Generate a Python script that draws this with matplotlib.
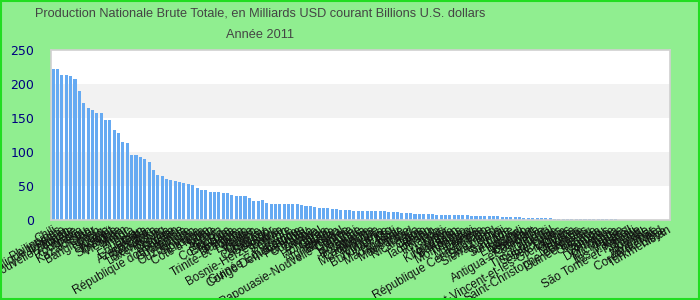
import matplotlib
matplotlib.use("Agg")
import matplotlib.pyplot as plt
from matplotlib.patches import Rectangle
import numpy as np

# Production nationale brute 2011, milliards USD
pays = [
    "Chili", "Philippines", "République tchèque", "Pakistan", "Nouvelle-Zélande",
    "Algérie", "Roumanie", "Pérou", "Kazakhstan", "Qatar",
    "Bangladesh", "Iraq", "Ukraine", "Koweït", "Hongrie",
    "Slovaquie", "Viet Nam", "Maroc", "Angola", "Équateur",
    "Oman", "Cuba", "Azerbaïdjan", "Sri Lanka", "Biélorussie",
    "Luxembourg", "Croatie", "Bulgarie", "Soudan", "République dominicaine",
    "Guatemala", "Tunisie", "Ouzbékistan", "Slovénie", "Lituanie",
    "Côte d'Ivoire", "Liban", "Serbie", "Kenya", "Éthiopie",
    "Costa Rica", "Ghana", "Tanzanie", "Panama", "Trinité-et-Tobago",
    "Lettonie", "Yémen", "Jordanie", "Uruguay", "Cameroun",
    "Salvador", "Bosnie-Herzégovine", "Bolivie", "Bahreïn", "Chypre",
    "Guinée Équatoriale", "Estonie", "Congo Démocratique", "Paraguay", "Ouganda",
    "Zambie", "Népal", "Honduras", "Gabon", "Islande",
    "Afghanistan", "Sénégal", "Papouasie-Nouvelle-Guinée", "Géorgie", "Brunei",
    "Jamaïque", "Botswana", "Albanie", "Cambodge", "Mozambique",
    "Mongolie", "Maurice", "Burkina Faso", "Mali", "Madagascar",
    "Arménie", "Macédoine", "Tchad", "Nicaragua", "Laos",
    "Congo", "Bénin", "Tadjikistan", "Rwanda", "Haïti",
    "Niger", "Moldavie", "Kirghizistan", "Bahamas", "Kosovo",
    "Monténégro", "Malawi", "Guinée", "Mauritanie", "Togo",
    "République Centrafricaine", "Swaziland", "Sierra Leone", "Fidji", "Barbade",
    "Suriname", "Érythrée", "Burundi", "Lesotho", "Bhoutan",
    "Cap-Vert", "Antigua-et-Barbuda", "Belize", "Djibouti", "Timor oriental",
    "Sainte-Lucie", "Seychelles", "Libéria", "Saint-Vincent-et-les-Grenadines", "Guyana",
    "Maldives", "Gambie", "Saint-Christophe-et-Niévès", "Guinée-Bissau", "Grenade",
    "Samoa", "Vanuatu", "Comores", "Dominique", "Tonga",
    "Micronésie", "Palaos", "Îles Marshall", "Kiribati", "São Tomé-et-Principe",
    "Tuvalu", "Somalie", "Myanmar", "Zimbabwe", "Corée du Nord",
    "Libye", "Turkménistan",
]

valeurs = [
    222, 222, 213, 213, 212, 207, 189.5, 172, 164.7, 162,
    157, 157, 147, 147, 133, 127.5, 114, 112.6, 96, 96,
    92, 89, 85, 73, 65.7, 64, 61, 59.5, 58, 56.5,
    55, 53.6, 52, 47.7, 44.7, 44.7, 41.8, 41.8, 41.8, 40.3,
    40.3, 37.4, 36, 36, 36, 33, 28.5, 28.5, 29, 24.8,
    23.4, 23.4, 23.4, 23.4, 23.4, 23.4, 23.4, 22, 20.6, 20.6,
    19, 17.6, 17.6, 17.6, 16, 16, 14.6, 14.6, 14.6, 13,
    13, 13, 13, 13, 13, 13, 13, 11.6, 11.6, 11.6,
    10, 10, 10, 8.7, 8.7, 8.7, 8.7, 8.7, 7.2, 7.2,
    7.2, 7.2, 7.2, 7.2, 7.2, 7.2, 5.8, 5.8, 5.8, 5.8,
    5.8, 5.8, 5.8, 4.3, 4.3, 4.3, 4.3, 4.3, 2.9, 2.9,
    2.9, 2.9, 2.9, 2.9, 2.9, 1.2, 1.2, 1.2, 1.2, 1.2,
    1.2, 1.2, 1.2, 1.2, 1.2, 1.2, 1.2, 1.2, 1.2, 1.2,
]
# pays sans donnée en fin de liste
valeurs = valeurs + [0] * (len(pays) - len(valeurs))

fig = plt.figure(figsize=(7, 3), dpi=100, facecolor="#90ee90")
fig.patches.append(Rectangle((0.001, 0.002), 0.997, 0.995, transform=fig.transFigure,
                             fill=False, edgecolor="#22dd22", linewidth=1.5))
ax = fig.add_axes([51 / 700, 1 - 220 / 300, 619 / 700, 170 / 300])
ax.set_facecolor("white")

x = np.arange(len(pays))
for lo, hi in [(50, 100), (150, 200)]:
    ax.axhspan(lo, hi, color="#f2f2f2", zorder=0, lw=0)
ax.bar(x, valeurs, width=0.7, color="#66aaf2", zorder=2)

ax.set_xlim(-0.5, len(pays) - 0.5)
ax.set_ylim(0, 250)
ax.set_yticks([0, 50, 100, 150, 200, 250])
ax.tick_params(axis="y", length=0, pad=12, labelcolor="#000080", labelsize=9)
ax.tick_params(axis="x", length=0, pad=3)
ax.set_xticks(x)
ax.set_xticklabels(pays, rotation=30, ha="right", rotation_mode="anchor",
                   fontsize=8.5, color="#111111", family=["Liberation Sans", "DejaVu Sans"])
for s in ax.spines.values():
    s.set_color("#d0d0d0")
    s.set_linewidth(1.2)

titre_font = ["Liberation Sans", "DejaVu Sans"]
fig.text(260 / 700, 1 - 14 / 300,
         "Production Nationale Brute Totale, en Milliards USD courant Billions U.S. dollars",
         ha="center", va="center", fontsize=9.2, color="#444444", family=titre_font)
fig.text(260 / 700, 1 - 35 / 300, "Année 2011", ha="center", va="center", fontsize=9.2,
         color="#444444", family=titre_font)

fig.savefig("out.png", dpi=100, facecolor=fig.get_facecolor())
